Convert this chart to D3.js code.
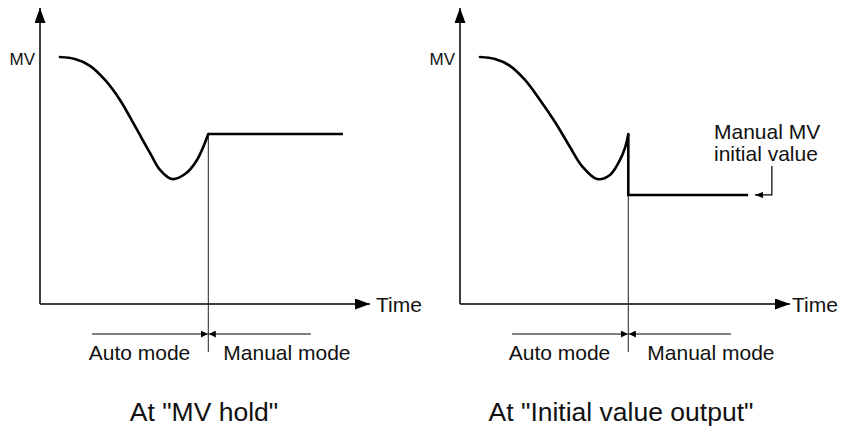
<!DOCTYPE html>
<html>
<head>
<meta charset="utf-8">
<script src="https://cdn.jsdelivr.net/npm/d3@7"></script>
<style>
  html, body { margin: 0; padding: 0; background: #fff; }
  svg { display: block; }
  text { font-family: "Liberation Sans", Arial, Helvetica, sans-serif; fill: #111; }
</style>
</head>
<body>
<svg id="chart" width="847" height="428"></svg>
<script>
// MV trajectory under automatic control (time, MV), time and MV in 0..100 units
const autoCurveHold = [
  [6.06, 84.0], [10.61, 83.3], [15.15, 81.0], [19.70, 76.2], [24.24, 69.4],
  [28.79, 60.5], [33.33, 51.4], [36.36, 45.6], [40.0, 42.5], [43.94, 44.2],
  [47.58, 49.0], [51, 57.8]
];
const autoCurveInit = [
  [6.06, 84.0], [10.61, 83.3], [15.15, 81.0], [19.70, 76.2], [24.24, 69.4],
  [28.79, 61.9], [33.33, 53.4], [36.97, 46.9], [41.52, 42.5], [45.45, 43.9],
  [48.48, 49.0], [50.0, 53.1], [51, 57.8]
];
// switchover time and end of the manual segment
const switchTime = 51;
const holdEnd = [91.8];
const initEnd = [87.3];
const manualInitialValue = [37.1];
// span of the auto / manual mode indicators
const modeSpan = [15.8, 82.1];
// text
const axisLabels = ["MV", "Time"];
const modeLabels = ["Auto mode", "Manual mode"];
const panelTitles = ['At "MV hold"', 'At "Initial value output"'];
const noteLines = ["Manual MV", "initial value"];

const svg = d3.select("#chart");

const defs = svg.append("defs");
function arrowMarker(id, w, h) {
  defs.append("marker")
    .attr("id", id)
    .attr("viewBox", `0 0 ${w} ${h}`)
    .attr("refX", w).attr("refY", h / 2)
    .attr("markerWidth", w).attr("markerHeight", h)
    .attr("markerUnits", "userSpaceOnUse")
    .attr("orient", "auto")
    .append("path")
    .attr("d", `M0,0L${w},${h / 2}L0,${h}Z`)
    .attr("fill", "#000");
}
arrowMarker("axisArrow", 15, 11);
arrowMarker("modeArrow", 7, 7);
arrowMarker("noteArrow", 8, 6);

function drawPanel(originX, curve, opts) {
  const x = d3.scaleLinear().domain([0, 100]).range([originX, originX + 330]);
  const y = d3.scaleLinear().domain([0, 100]).range([304, 10]);
  const g = svg.append("g");

  // axes
  g.append("line")
    .attr("x1", x(0)).attr("y1", y(0)).attr("x2", x(0)).attr("y2", y(100.7))
    .attr("stroke", "#000").attr("stroke-width", 1.5)
    .attr("marker-end", "url(#axisArrow)");
  g.append("line")
    .attr("x1", x(0)).attr("y1", y(0)).attr("x2", x(100)).attr("y2", y(0))
    .attr("stroke", "#000").attr("stroke-width", 1.5)
    .attr("marker-end", "url(#axisArrow)");

  g.append("text")
    .attr("x", x(0) - 5).attr("y", y(81.3))
    .attr("text-anchor", "end")
    .attr("font-size", 17)
    .text(axisLabels[0]);
  g.append("text")
    .attr("x", x(100) + opts.timeGap).attr("y", y(0) + 8)
    .attr("font-size", 21)
    .text(axisLabels[1]);

  // switchover marker line
  const lastMV = opts.manualLevel;
  g.append("line")
    .attr("x1", x(switchTime)).attr("x2", x(switchTime))
    .attr("y1", y(lastMV)).attr("y2", y(0) + 48)
    .attr("stroke", "#222").attr("stroke-width", 1);

  // MV trace: auto curve, then manual segment
  const line = d3.line().x(d => x(d[0])).y(d => y(d[1])).curve(d3.curveCatmullRom.alpha(0.5));
  g.append("path")
    .attr("d", line(curve))
    .attr("fill", "none").attr("stroke", "#000").attr("stroke-width", 2.6)
    .attr("stroke-linecap", "round");
  const last = curve[curve.length - 1];
  const manual = [[last[0], last[1]], [switchTime, lastMV], [opts.endTime, lastMV]];
  g.append("path")
    .attr("d", d3.line().x(d => x(d[0])).y(d => y(d[1]))(manual))
    .attr("fill", "none").attr("stroke", "#000").attr("stroke-width", 2.6)
    .attr("stroke-linejoin", "miter");

  // mode indicators
  const my = y(0) + 30;
  g.append("line")
    .attr("x1", x(modeSpan[0])).attr("y1", my).attr("x2", x(switchTime) - 0.5).attr("y2", my)
    .attr("stroke", "#000").attr("stroke-width", 1)
    .attr("marker-end", "url(#modeArrow)");
  g.append("line")
    .attr("x1", x(modeSpan[1])).attr("y1", my).attr("x2", x(switchTime) + 0.5).attr("y2", my)
    .attr("stroke", "#000").attr("stroke-width", 1)
    .attr("marker-end", "url(#modeArrow)");
  g.append("text")
    .attr("x", x(switchTime) - 18).attr("y", my + 26)
    .attr("text-anchor", "end").attr("font-size", 21)
    .text(modeLabels[0]);
  g.append("text")
    .attr("x", x(switchTime) + opts.manualGap).attr("y", my + 26)
    .attr("font-size", 21)
    .text(modeLabels[1]);

  // panel title
  g.append("text")
    .attr("x", opts.titleX).attr("y", 421)
    .attr("text-anchor", "middle").attr("font-size", 26.5)
    .text(opts.title);

  return { x, y, g };
}

drawPanel(40, autoCurveHold, {
  manualLevel: autoCurveHold[autoCurveHold.length - 1][1],
  endTime: holdEnd[0], timeGap: 6, manualGap: 15,
  title: panelTitles[0], titleX: 204
});

const right = drawPanel(460, autoCurveInit, {
  manualLevel: manualInitialValue[0],
  endTime: initEnd[0], timeGap: 2, manualGap: 19,
  title: panelTitles[1], titleX: 621
});

// note for the manual initial value
const nx = right.x, ny = right.y;
right.g.append("text")
  .attr("x", 714).attr("y", 139)
  .attr("font-size", 21)
  .text(noteLines[0]);
right.g.append("text")
  .attr("x", 714).attr("y", 161)
  .attr("font-size", 21)
  .text(noteLines[1]);
right.g.append("path")
  .attr("d", d3.line()([[nx(94.5), 166], [nx(94.5), ny(manualInitialValue[0])], [nx(89.4), ny(manualInitialValue[0])]]))
  .attr("fill", "none").attr("stroke", "#000").attr("stroke-width", 1.2)
  .attr("marker-end", "url(#noteArrow)");
</script>
</body>
</html>
